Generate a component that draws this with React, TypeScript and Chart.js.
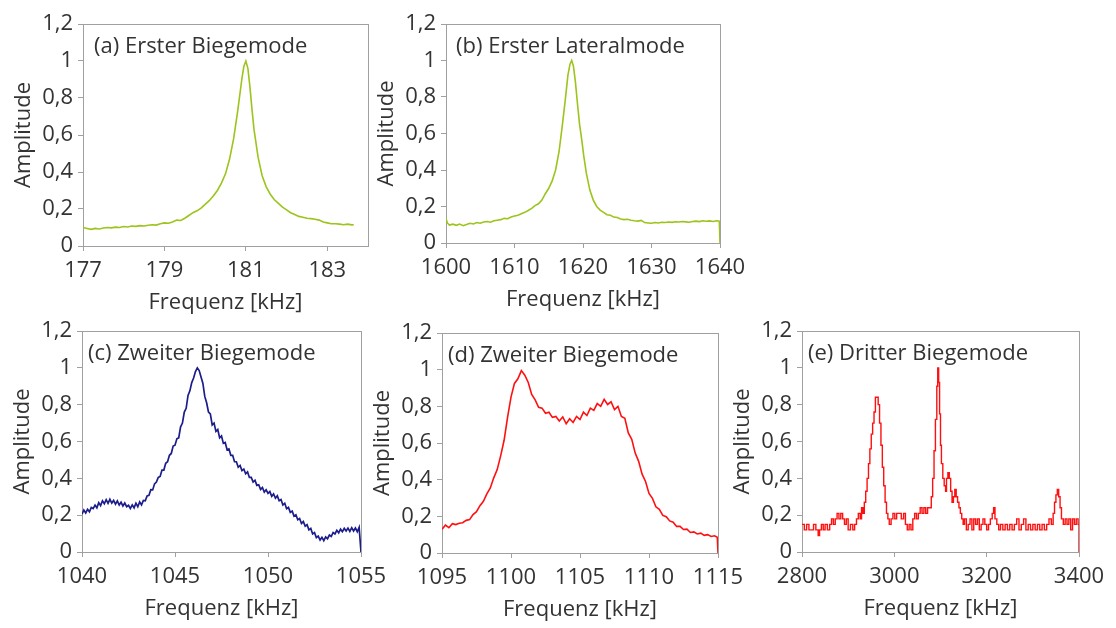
import React, { useEffect, useRef } from 'react';
import { Chart, registerables } from 'chart.js';

Chart.register(...registerables);
Chart.defaults.font.family = "'Open Sans', 'Noto Sans', sans-serif";

// ---------- tick labels ----------
const yTicks = [0, 0.2, 0.4, 0.6, 0.8, 1, 1.2];
const aTicks = [177, 179, 181, 183];
const bTicks = [1600, 1610, 1620, 1630, 1640];
const cTicks = [1040, 1045, 1050, 1055];
const dTicks = [1095, 1100, 1105, 1110, 1115];
const eTicks = [2800, 3000, 3200, 3400];

const panelTitles = [
  '(a) Erster Biegemode',
  '(b) Erster Lateralmode',
  '(c) Zweiter Biegemode',
  '(d) Zweiter Biegemode',
  '(e) Dritter Biegemode',
];
const xTitle = 'Frequenz [kHz]';
const yTitle = 'Amplitude';

// ---------- (a) ----------
const aFreq = [177.0, 177.1, 177.2, 177.3, 177.4, 177.5, 177.6, 177.7, 177.8, 177.9, 178.0, 178.1, 178.2, 178.3, 178.4, 178.5, 178.6, 178.7, 178.8, 178.9, 179.0, 179.1, 179.2, 179.3, 179.4, 179.5, 179.6, 179.7, 179.8, 179.9, 180.0, 180.1, 180.2, 180.3, 180.4, 180.5, 180.6, 180.7, 180.8, 180.9, 180.95, 181.0, 181.05, 181.1, 181.15, 181.2, 181.3, 181.4, 181.5, 181.6, 181.7, 181.8, 181.9, 182.0, 182.1, 182.2, 182.3, 182.4, 182.5, 182.6, 182.7, 182.8, 182.9, 183.0, 183.1, 183.2, 183.3, 183.4, 183.5, 183.6, 183.65];
const aAmp = [0.10, 0.095, 0.09, 0.095, 0.092, 0.097, 0.10, 0.098, 0.102, 0.10, 0.105, 0.103, 0.108, 0.106, 0.11, 0.108, 0.112, 0.115, 0.113, 0.12, 0.125, 0.123, 0.13, 0.14, 0.138, 0.15, 0.165, 0.18, 0.19, 0.205, 0.225, 0.245, 0.27, 0.30, 0.34, 0.39, 0.47, 0.58, 0.73, 0.90, 0.97, 1.0, 0.96, 0.86, 0.74, 0.63, 0.48, 0.38, 0.32, 0.28, 0.25, 0.23, 0.21, 0.195, 0.18, 0.17, 0.16, 0.155, 0.15, 0.148, 0.145, 0.14, 0.13, 0.125, 0.12, 0.12, 0.118, 0.115, 0.118, 0.114, 0.115];

// ---------- (b) ----------
const bFreq = [1600.0, 1600.2, 1600.5, 1601.0, 1601.5, 1602.0, 1602.5, 1603.0, 1603.5, 1604.0, 1604.5, 1605.0, 1605.5, 1606.0, 1606.5, 1607.0, 1607.5, 1608.0, 1608.5, 1609.0, 1609.5, 1610.0, 1610.5, 1611.0, 1611.5, 1612.0, 1612.5, 1613.0, 1613.5, 1614.0, 1614.5, 1615.0, 1615.5, 1616.0, 1616.5, 1617.0, 1617.4, 1617.8, 1618.1, 1618.35, 1618.6, 1618.9, 1619.2, 1619.5, 1619.8, 1620.1, 1620.5, 1621.0, 1621.5, 1622.0, 1622.5, 1623.0, 1623.5, 1624.0, 1624.5, 1625.0, 1625.5, 1626.0, 1626.5, 1627.0, 1627.5, 1628.0, 1628.5, 1629.0, 1629.5, 1630.0, 1630.5, 1631.0, 1631.5, 1632.0, 1632.5, 1633.0, 1633.5, 1634.0, 1634.5, 1635.0, 1635.5, 1636.0, 1636.5, 1637.0, 1637.5, 1638.0, 1638.5, 1639.0, 1639.5, 1639.9, 1640.0];
const bAmp = [0.135, 0.11, 0.098, 0.103, 0.097, 0.104, 0.095, 0.102, 0.108, 0.104, 0.112, 0.108, 0.115, 0.118, 0.114, 0.122, 0.125, 0.128, 0.135, 0.133, 0.142, 0.148, 0.152, 0.16, 0.168, 0.178, 0.19, 0.205, 0.215, 0.235, 0.27, 0.30, 0.34, 0.40, 0.50, 0.65, 0.78, 0.92, 0.98, 1.0, 0.97, 0.88, 0.76, 0.65, 0.57, 0.48, 0.38, 0.29, 0.235, 0.20, 0.18, 0.168, 0.155, 0.152, 0.142, 0.14, 0.132, 0.128, 0.13, 0.125, 0.122, 0.12, 0.124, 0.112, 0.11, 0.108, 0.112, 0.11, 0.114, 0.112, 0.115, 0.113, 0.116, 0.115, 0.118, 0.116, 0.114, 0.118, 0.12, 0.117, 0.122, 0.119, 0.121, 0.118, 0.122, 0.12, 0.0];

// ---------- (c) ----------
const cFreq = [1040.0, 1040.1, 1040.2, 1040.3, 1040.4, 1040.5, 1040.6, 1040.7, 1040.8, 1040.9, 1041.0, 1041.1, 1041.2, 1041.3, 1041.4, 1041.5, 1041.6, 1041.7, 1041.8, 1041.9, 1042.0, 1042.1, 1042.2, 1042.3, 1042.4, 1042.5, 1042.6, 1042.7, 1042.8, 1042.9, 1043.0, 1043.1, 1043.2, 1043.3, 1043.4, 1043.5, 1043.6, 1043.7, 1043.8, 1043.9, 1044.0, 1044.1, 1044.2, 1044.3, 1044.4, 1044.5, 1044.6, 1044.7, 1044.8, 1044.9, 1045.0, 1045.1, 1045.2, 1045.3, 1045.4, 1045.5, 1045.6, 1045.7, 1045.8, 1045.9, 1046.0, 1046.1, 1046.2, 1046.3, 1046.4, 1046.5, 1046.6, 1046.7, 1046.8, 1046.9, 1047.0, 1047.1, 1047.2, 1047.3, 1047.4, 1047.5, 1047.6, 1047.7, 1047.8, 1047.9, 1048.0, 1048.1, 1048.2, 1048.3, 1048.4, 1048.5, 1048.6, 1048.7, 1048.8, 1048.9, 1049.0, 1049.1, 1049.2, 1049.3, 1049.4, 1049.5, 1049.6, 1049.7, 1049.8, 1049.9, 1050.0, 1050.1, 1050.2, 1050.3, 1050.4, 1050.5, 1050.6, 1050.7, 1050.8, 1050.9, 1051.0, 1051.1, 1051.2, 1051.3, 1051.4, 1051.5, 1051.6, 1051.7, 1051.8, 1051.9, 1052.0, 1052.1, 1052.2, 1052.3, 1052.4, 1052.5, 1052.6, 1052.7, 1052.8, 1052.9, 1053.0, 1053.1, 1053.2, 1053.3, 1053.4, 1053.5, 1053.6, 1053.7, 1053.8, 1053.9, 1054.0, 1054.1, 1054.2, 1054.3, 1054.4, 1054.5, 1054.6, 1054.7, 1054.8, 1054.9, 1055.0];
const cAmp = [0.205, 0.228, 0.212, 0.232, 0.218, 0.242, 0.236, 0.255, 0.24, 0.268, 0.252, 0.278, 0.262, 0.284, 0.264, 0.286, 0.266, 0.28, 0.26, 0.278, 0.255, 0.27, 0.25, 0.266, 0.246, 0.254, 0.236, 0.256, 0.24, 0.265, 0.246, 0.272, 0.256, 0.28, 0.278, 0.305, 0.308, 0.338, 0.337, 0.37, 0.38, 0.405, 0.41, 0.445, 0.445, 0.482, 0.49, 0.525, 0.535, 0.575, 0.58, 0.615, 0.62, 0.68, 0.70, 0.76, 0.78, 0.85, 0.875, 0.92, 0.945, 0.98, 1.0, 0.985, 0.95, 0.915, 0.845, 0.81, 0.76, 0.75, 0.69, 0.70, 0.655, 0.665, 0.62, 0.63, 0.59, 0.595, 0.555, 0.56, 0.525, 0.525, 0.49, 0.49, 0.46, 0.47, 0.442, 0.45, 0.425, 0.435, 0.405, 0.405, 0.38, 0.39, 0.362, 0.365, 0.34, 0.35, 0.325, 0.338, 0.318, 0.328, 0.302, 0.315, 0.292, 0.305, 0.278, 0.285, 0.255, 0.265, 0.235, 0.242, 0.215, 0.222, 0.195, 0.202, 0.175, 0.182, 0.155, 0.165, 0.14, 0.148, 0.12, 0.128, 0.098, 0.105, 0.078, 0.086, 0.065, 0.08, 0.062, 0.082, 0.072, 0.092, 0.084, 0.106, 0.098, 0.118, 0.104, 0.124, 0.11, 0.128, 0.114, 0.13, 0.112, 0.132, 0.114, 0.13, 0.11, 0.134, 0.0];

// ---------- (d) ----------
const dFreq = [1095.0, 1095.25, 1095.5, 1095.75, 1096.0, 1096.25, 1096.5, 1096.75, 1097.0, 1097.25, 1097.5, 1097.75, 1098.0, 1098.25, 1098.5, 1098.75, 1099.0, 1099.25, 1099.5, 1099.75, 1100.0, 1100.25, 1100.5, 1100.75, 1101.0, 1101.25, 1101.5, 1101.75, 1102.0, 1102.25, 1102.5, 1102.75, 1103.0, 1103.25, 1103.5, 1103.75, 1104.0, 1104.25, 1104.5, 1104.75, 1105.0, 1105.25, 1105.5, 1105.75, 1106.0, 1106.25, 1106.5, 1106.75, 1107.0, 1107.25, 1107.5, 1107.75, 1108.0, 1108.25, 1108.5, 1108.75, 1109.0, 1109.25, 1109.5, 1109.75, 1110.0, 1110.25, 1110.5, 1110.75, 1111.0, 1111.25, 1111.5, 1111.75, 1112.0, 1112.25, 1112.5, 1112.75, 1113.0, 1113.25, 1113.5, 1113.75, 1114.0, 1114.25, 1114.5, 1114.75, 1114.95, 1115.0];
const dAmp = [0.13, 0.152, 0.138, 0.16, 0.155, 0.162, 0.165, 0.178, 0.182, 0.21, 0.225, 0.258, 0.282, 0.322, 0.355, 0.41, 0.455, 0.53, 0.615, 0.74, 0.85, 0.925, 0.95, 0.995, 0.97, 0.93, 0.865, 0.835, 0.795, 0.79, 0.762, 0.768, 0.74, 0.745, 0.72, 0.742, 0.705, 0.732, 0.712, 0.745, 0.728, 0.768, 0.75, 0.79, 0.778, 0.815, 0.80, 0.838, 0.81, 0.825, 0.782, 0.80, 0.745, 0.735, 0.655, 0.62, 0.545, 0.50, 0.43, 0.39, 0.325, 0.298, 0.252, 0.238, 0.205, 0.198, 0.175, 0.168, 0.145, 0.145, 0.128, 0.13, 0.112, 0.115, 0.104, 0.108, 0.096, 0.10, 0.09, 0.094, 0.086, 0.0];

// ---------- (e) ----------
const eFreq = [2800, 2805, 2810, 2815, 2820, 2825, 2830, 2835, 2838, 2842, 2846, 2850, 2855, 2860, 2864, 2868, 2872, 2876, 2880, 2884, 2888, 2892, 2896, 2900, 2905, 2910, 2914, 2918, 2922, 2926, 2929, 2932, 2935, 2938, 2941, 2944, 2947, 2950, 2953, 2956, 2959, 2962, 2965, 2968, 2971, 2974, 2977, 2980, 2983, 2986, 2989, 2993, 2997, 3001, 3005, 3010, 3015, 3020, 3024, 3028, 3032, 3036, 3040, 3044, 3048, 3052, 3056, 3060, 3064, 3068, 3072, 3076, 3080, 3083, 3086, 3089, 3092, 3094, 3096, 3098, 3100, 3102, 3105, 3108, 3111, 3113, 3116, 3119, 3122, 3125, 3128, 3131, 3134, 3137, 3140, 3143, 3146, 3149, 3152, 3156, 3160, 3164, 3168, 3172, 3176, 3180, 3184, 3188, 3192, 3196, 3200, 3204, 3208, 3212, 3215, 3218, 3222, 3226, 3230, 3235, 3240, 3245, 3250, 3255, 3260, 3265, 3270, 3275, 3280, 3285, 3290, 3295, 3300, 3305, 3310, 3315, 3320, 3325, 3330, 3335, 3340, 3344, 3347, 3350, 3353, 3356, 3359, 3362, 3366, 3370, 3374, 3378, 3382, 3386, 3390, 3394, 3398, 3400];
const eAmp = [0.15, 0.12, 0.15, 0.12, 0.12, 0.15, 0.12, 0.09, 0.12, 0.15, 0.12, 0.15, 0.12, 0.15, 0.18, 0.15, 0.18, 0.21, 0.18, 0.21, 0.18, 0.15, 0.18, 0.12, 0.15, 0.12, 0.15, 0.18, 0.21, 0.18, 0.24, 0.21, 0.27, 0.33, 0.40, 0.48, 0.56, 0.64, 0.70, 0.76, 0.84, 0.84, 0.80, 0.70, 0.58, 0.46, 0.36, 0.27, 0.21, 0.18, 0.15, 0.18, 0.21, 0.18, 0.21, 0.21, 0.18, 0.21, 0.15, 0.12, 0.15, 0.12, 0.18, 0.21, 0.18, 0.21, 0.24, 0.21, 0.24, 0.21, 0.24, 0.24, 0.30, 0.40, 0.55, 0.72, 0.90, 1.0, 0.92, 0.75, 0.58, 0.48, 0.40, 0.36, 0.33, 0.40, 0.43, 0.40, 0.33, 0.27, 0.30, 0.34, 0.30, 0.27, 0.24, 0.21, 0.18, 0.15, 0.18, 0.12, 0.15, 0.18, 0.12, 0.18, 0.15, 0.18, 0.12, 0.15, 0.18, 0.15, 0.12, 0.15, 0.18, 0.21, 0.24, 0.18, 0.15, 0.12, 0.15, 0.12, 0.15, 0.12, 0.15, 0.12, 0.15, 0.18, 0.12, 0.15, 0.18, 0.12, 0.15, 0.12, 0.15, 0.12, 0.15, 0.12, 0.15, 0.12, 0.15, 0.18, 0.15, 0.21, 0.27, 0.31, 0.34, 0.30, 0.24, 0.18, 0.15, 0.18, 0.15, 0.18, 0.12, 0.18, 0.15, 0.18, 0.15, 0.0];

// ---------- styling / layout ----------
const TEXT = '#333333';
const FRAME = '#a0a0a0';
const FONT_SIZE = 22;
const WY = 72; // y-axis box width
const HX = 70; // x-axis box height
const PAD_T = 16;
const PAD_R = 36;

type PanelSpec = {
  title: string;
  freq: number[];
  amp: number[];
  xMin: number;
  xMax: number;
  xTicks: number[];
  color: string;
  lineWidth: number;
  stepped: boolean;
  L: number;
  T: number;
  R: number;
  B: number;
  titleDx: number;
};

const panels: PanelSpec[] = [
  { title: panelTitles[0], freq: aFreq, amp: aAmp, xMin: 177, xMax: 184, xTicks: aTicks, color: '#9cc41c', lineWidth: 1.6, stepped: false, L: 83, T: 24, R: 368, B: 246, titleDx: 11 },
  { title: panelTitles[1], freq: bFreq, amp: bAmp, xMin: 1600, xMax: 1640, xTicks: bTicks, color: '#9cc41c', lineWidth: 1.6, stepped: false, L: 446, T: 24, R: 720, B: 243, titleDx: 10 },
  { title: panelTitles[2], freq: cFreq, amp: cAmp, xMin: 1040, xMax: 1055, xTicks: cTicks, color: '#1c1c8c', lineWidth: 1.7, stepped: false, L: 82, T: 331, R: 361, B: 552, titleDx: 6 },
  { title: panelTitles[3], freq: dFreq, amp: dAmp, xMin: 1095, xMax: 1115, xTicks: dTicks, color: '#ff1010', lineWidth: 1.6, stepped: false, L: 442, T: 333, R: 718, B: 553, titleDx: 6 },
  { title: panelTitles[4], freq: eFreq, amp: eAmp, xMin: 2800, xMax: 3400, xTicks: eTicks, color: '#ff1010', lineWidth: 1.4, stepped: true, L: 802, T: 331, R: 1079, B: 552, titleDx: 6 },
];

const framePlugin = {
  id: 'frameBox',
  beforeDatasetsDraw(chart: any) {
    const { ctx, chartArea: a } = chart;
    ctx.save();
    ctx.strokeStyle = FRAME;
    ctx.lineWidth = 1;
    ctx.strokeRect(Math.round(a.left) + 0.5, Math.round(a.top) + 0.5, Math.round(a.right - a.left), Math.round(a.bottom - a.top));
    ctx.restore();
  },
};

function makeTitlePlugin(text: string, dx: number) {
  return {
    id: 'panelTitle',
    afterDraw(chart: any) {
      const { ctx, chartArea: a } = chart;
      ctx.save();
      ctx.font = `${FONT_SIZE}px 'Open Sans', 'Noto Sans', sans-serif`;
      ctx.fillStyle = TEXT;
      ctx.textAlign = 'left';
      ctx.textBaseline = 'alphabetic';
      ctx.fillText(text, a.left + dx, a.top + 29);
      ctx.restore();
    },
  };
}

function PanelChart({ p }: { p: PanelSpec }) {
  const ref = useRef<HTMLCanvasElement>(null);
  const left = p.L - WY;
  const top = p.T - PAD_T;
  const width = p.R + PAD_R - left;
  const height = p.B + HX - top;

  useEffect(() => {
    if (!ref.current) return;
    const gridOpts = {
      display: true,
      drawOnChartArea: false,
      drawTicks: true,
      tickLength: 5,
      color: FRAME,
      lineWidth: 1,
    };
    const chart = new Chart(ref.current, {
      type: 'line',
      data: {
        datasets: [
          {
            data: p.freq.map((x, i) => ({ x, y: p.amp[i] })),
            borderColor: p.color,
            borderWidth: p.lineWidth,
            pointRadius: 0,
            fill: false,
            tension: 0,
            stepped: p.stepped,
          },
        ],
      },
      options: {
        responsive: false,
        animation: false,
        devicePixelRatio: 1,
        layout: { padding: { left: 0, top: PAD_T, right: PAD_R, bottom: 0 } },
        plugins: {
          legend: { display: false },
          tooltip: { enabled: false },
          title: { display: false },
        },
        scales: {
          x: {
            type: 'linear',
            min: p.xMin,
            max: p.xMax,
            afterBuildTicks: (s: any) => {
              s.ticks = p.xTicks.map((v) => ({ value: v }));
            },
            afterFit: (s: any) => {
              s.height = HX;
              s.paddingLeft = 0;
              s.paddingRight = 0;
            },
            ticks: {
              autoSkip: false,
              maxRotation: 0,
              minRotation: 0,
              padding: 7,
              color: TEXT,
              font: { size: FONT_SIZE },
              callback: (v: any) => String(v),
            },
            grid: gridOpts,
            border: { display: false },
            title: { display: true, text: xTitle, color: TEXT, font: { size: FONT_SIZE }, padding: 0 },
          },
          y: {
            type: 'linear',
            min: 0,
            max: 1.2,
            afterBuildTicks: (s: any) => {
              s.ticks = yTicks.map((v) => ({ value: v }));
            },
            afterFit: (s: any) => {
              s.width = WY;
              s.paddingTop = 0;
              s.paddingBottom = 0;
            },
            ticks: {
              autoSkip: false,
              padding: 5,
              color: TEXT,
              font: { size: FONT_SIZE },
              callback: (v: any) => String(v).replace('.', ','),
            },
            grid: gridOpts,
            border: { display: false },
            title: { display: true, text: yTitle, color: TEXT, font: { size: FONT_SIZE }, padding: 0 },
          },
        },
      } as any,
      plugins: [framePlugin, makeTitlePlugin(p.title, p.titleDx)],
    } as any);
    return () => chart.destroy();
  }, [p]);

  return (
    <canvas
      ref={ref}
      width={width}
      height={height}
      style={{ position: 'absolute', left, top, width, height, display: 'block' }}
    />
  );
}

export default function App() {
  return (
    <div style={{ position: 'absolute', left: 0, top: 0, width: 1116, height: 628, background: '#ffffff', overflow: 'hidden' }}>
      {panels.map((p, i) => (
        <PanelChart key={i} p={p} />
      ))}
    </div>
  );
}
